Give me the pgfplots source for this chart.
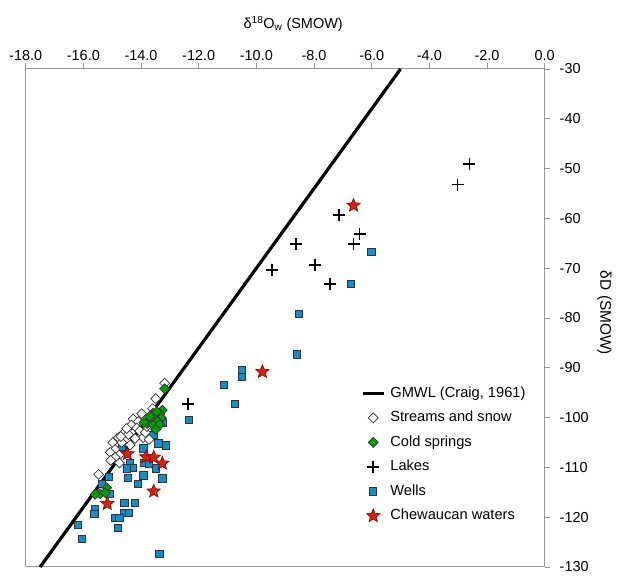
\documentclass[border=0pt]{standalone}
\usepackage{pgfplots}
\pgfplotsset{compat=1.18}
\usepackage{fontspec}
\setmainfont{Liberation Sans}
\usetikzlibrary{plotmarks}
\definecolor{axgray}{RGB}{150,150,150}
\definecolor{wellblue}{RGB}{20,140,205}
\definecolor{springgreen}{RGB}{0,160,0}
\definecolor{starred}{RGB}{220,30,15}
\definecolor{stardark}{RGB}{120,20,10}
\pgfdeclareplotmark{fstar}{%
  \pgfpathmoveto{\pgfpointpolar{90}{\pgfplotmarksize}}%
  \pgfpathlineto{\pgfpointpolar{126}{0.45\pgfplotmarksize}}%
  \pgfpathlineto{\pgfpointpolar{162}{\pgfplotmarksize}}%
  \pgfpathlineto{\pgfpointpolar{198}{0.45\pgfplotmarksize}}%
  \pgfpathlineto{\pgfpointpolar{234}{\pgfplotmarksize}}%
  \pgfpathlineto{\pgfpointpolar{270}{0.45\pgfplotmarksize}}%
  \pgfpathlineto{\pgfpointpolar{306}{\pgfplotmarksize}}%
  \pgfpathlineto{\pgfpointpolar{342}{0.45\pgfplotmarksize}}%
  \pgfpathlineto{\pgfpointpolar{18}{\pgfplotmarksize}}%
  \pgfpathlineto{\pgfpointpolar{54}{0.45\pgfplotmarksize}}%
  \pgfpathclose
  \pgfusepathqfillstroke
}
\pgfplotsset{
  mylegmark/.style={legend image code/.code={\draw[##1] plot coordinates {(10.5bp,0bp)};}},
  mylegline/.style={legend image code/.code={\draw[black, line width=3.2bp] (0bp,0bp) -- (21bp,0bp);}},
}
\begin{document}
\begin{tikzpicture}
\begin{axis}[
  name=ax,
  scale only axis,
  width=519bp, height=498bp,
  xmin=-18, xmax=0, ymin=-130, ymax=-30,
  xtick={-18,-16,...,0}, ytick={-130,-120,...,-30},
  axis line style={axgray, line width=1bp},
  tick style={axgray, line width=0.8bp},
  major tick length=5.5bp,
  tick align=outside,
  xtick pos=top, xticklabel pos=top,
  ytick pos=right, yticklabel pos=right,
  xticklabel style={/pgf/number format/.cd, fixed, fixed zerofill, precision=1, assume math mode=true, /tikz/.cd, yshift=-1bp},
  yticklabel style={/pgf/number format/assume math mode=true, xshift=6bp},
  ticklabel style={font=\fontsize{14.5}{17}\selectfont, text=black},
  xlabel={\fontsize{14.5}{17}\selectfont δ\textsuperscript{18}O\textsubscript{w} (SMOW)},
  xlabel style={at={(rel axis cs:0.5,1)}, anchor=center, yshift=45bp, xshift=8bp},
  ylabel={\fontsize{15.5}{18}\selectfont δD (SMOW)},
  ylabel style={at={(rel axis cs:1.115,0.51)}, anchor=center, rotate=180},
  clip=false,
  legend style={at={(0.646,0.363)}, anchor=north west, draw=none, fill=none,
    font=\fontsize{14.7}{17}\selectfont, row sep=10.5bp, inner sep=0pt,
    nodes={inner sep=0pt, text height=11bp, text depth=3bp},
    /tikz/every odd column/.style={column sep=5bp}},
  legend cell align=left,
]
\addlegendimage{mylegline}
\addlegendentry{GMWL (Craig, 1961)}
\addlegendimage{only marks, mark=square*, mark size=3.5bp, mark options={rotate=45, fill=white, draw=black!80, line width=0.7bp}, mylegmark}
\addlegendentry{Streams and snow}
\addlegendimage{only marks, mark=square*, mark size=3.5bp, mark options={rotate=45, fill=springgreen, draw=black!80, line width=0.7bp}, mylegmark}
\addlegendentry{Cold springs}
\addlegendimage{only marks, mark=+, mark size=6bp, mark options={black, line width=1.7bp}, mylegmark}
\addlegendentry{Lakes}
\addlegendimage{only marks, mark=square*, mark size=3.6bp, mark options={fill=wellblue, draw=black!80, line width=0.8bp}, mylegmark}
\addlegendentry{Wells}
\addlegendimage{only marks, mark=fstar, mark size=7bp, mark options={fill=starred, draw=stardark, line width=0.7bp}, mylegmark}
\addlegendentry{Chewaucan waters}

% GMWL
\addplot[black, line width=3.2bp, forget plot] coordinates {(-17.5,-130) (-5,-30)};

% Wells
\addplot[only marks, mark=square*, mark size=3.6bp, mark options={fill=wellblue, draw=black!80, line width=0.8bp}, forget plot] coordinates {
(-6.01,-66.7) (-6.72,-73.2) (-8.53,-79.1) (-8.60,-87.3) (-10.51,-90.5) (-10.51,-91.8)
(-11.12,-93.5) (-10.75,-97.3) (-12.34,-100.5) (-13.25,-101.0) (-13.57,-103.4)
(-13.40,-105.2) (-13.13,-105.6) (-14.67,-105.9) (-13.92,-106.2) (-14.38,-109.1)
(-14.29,-110.1) (-14.50,-110.2) (-13.88,-109.1) (-13.74,-109.2) (-13.48,-110.2)
(-13.92,-111.6) (-14.45,-112.1) (-13.26,-112.2) (-14.10,-113.3) (-15.12,-111.9)
(-15.36,-113.3) (-15.07,-115.3) (-14.58,-117.2) (-14.20,-117.2) (-15.59,-118.3)
(-15.62,-119.4) (-14.58,-119.1) (-14.41,-119.1) (-14.90,-120.2) (-14.75,-120.2)
(-14.81,-122.1) (-16.18,-121.6) (-16.04,-124.3) (-13.36,-127.3)
};

% Streams and snow
\addplot[only marks, mark=square*, mark size=3.5bp, mark options={rotate=45, fill=white, draw=black!80, line width=0.7bp}, forget plot] coordinates {
(-13.18,-93.1) (-13.49,-96.2) (-13.60,-98.2) (-13.98,-99.2) (-14.27,-100.3)
(-14.10,-100.8) (-14.33,-101.5) (-14.15,-102.1) (-14.58,-103.0) (-14.44,-103.4)
(-14.04,-102.7) (-13.93,-104.0) (-13.72,-104.4) (-14.21,-104.2) (-14.79,-104.0)
(-14.98,-105.0) (-14.67,-105.0) (-14.90,-106.4) (-15.07,-107.0) (-14.75,-107.5)
(-14.90,-108.0) (-14.75,-109.1) (-15.47,-111.4) (-14.38,-105.5) (-14.50,-102.2)
(-14.70,-103.8) (-13.85,-103.0) (-13.80,-101.8) (-15.05,-108.6)
};

% Cold springs
\addplot[only marks, mark=square*, mark size=3.5bp, mark options={rotate=45, fill=springgreen, draw=black!80, line width=0.7bp}, forget plot] coordinates {
(-13.18,-94.2) (-13.26,-98.5) (-13.58,-99.1) (-13.35,-99.3) (-13.49,-100.1)
(-13.29,-100.1) (-13.64,-100.5) (-13.41,-100.8) (-13.79,-101.2) (-13.58,-101.5)
(-13.35,-101.4) (-13.49,-102.4) (-13.70,-99.8) (-13.45,-98.8) (-13.90,-101.0)
(-15.19,-114.1) (-15.42,-115.3) (-15.59,-115.4) (-15.24,-115.1)
};

% Lakes
\addplot[only marks, mark=+, mark size=6bp, mark options={black, line width=1.7bp}, forget plot] coordinates {
(-2.61,-49.1) (-3.02,-53.2) (-7.14,-59.3) (-6.42,-63.2) (-6.63,-65.1)
(-8.63,-65.2) (-7.96,-69.4) (-9.46,-70.4) (-7.44,-73.2) (-12.37,-97.3)
};

% Chewaucan waters
\addplot[only marks, mark=fstar, mark size=7bp, mark options={fill=starred, draw=stardark, line width=0.7bp}, forget plot] coordinates {
(-6.63,-57.4) (-9.79,-90.8) (-14.47,-107.3) (-13.82,-107.9) (-13.56,-108.0)
(-13.26,-109.2) (-13.56,-114.8) (-15.17,-117.3)
};
\end{axis}
\path ([shift={(-25.7bp,-5.3bp)}]ax.south west) rectangle ([shift={(72.3bp,69bp)}]ax.north east);
\end{tikzpicture}
\end{document}
